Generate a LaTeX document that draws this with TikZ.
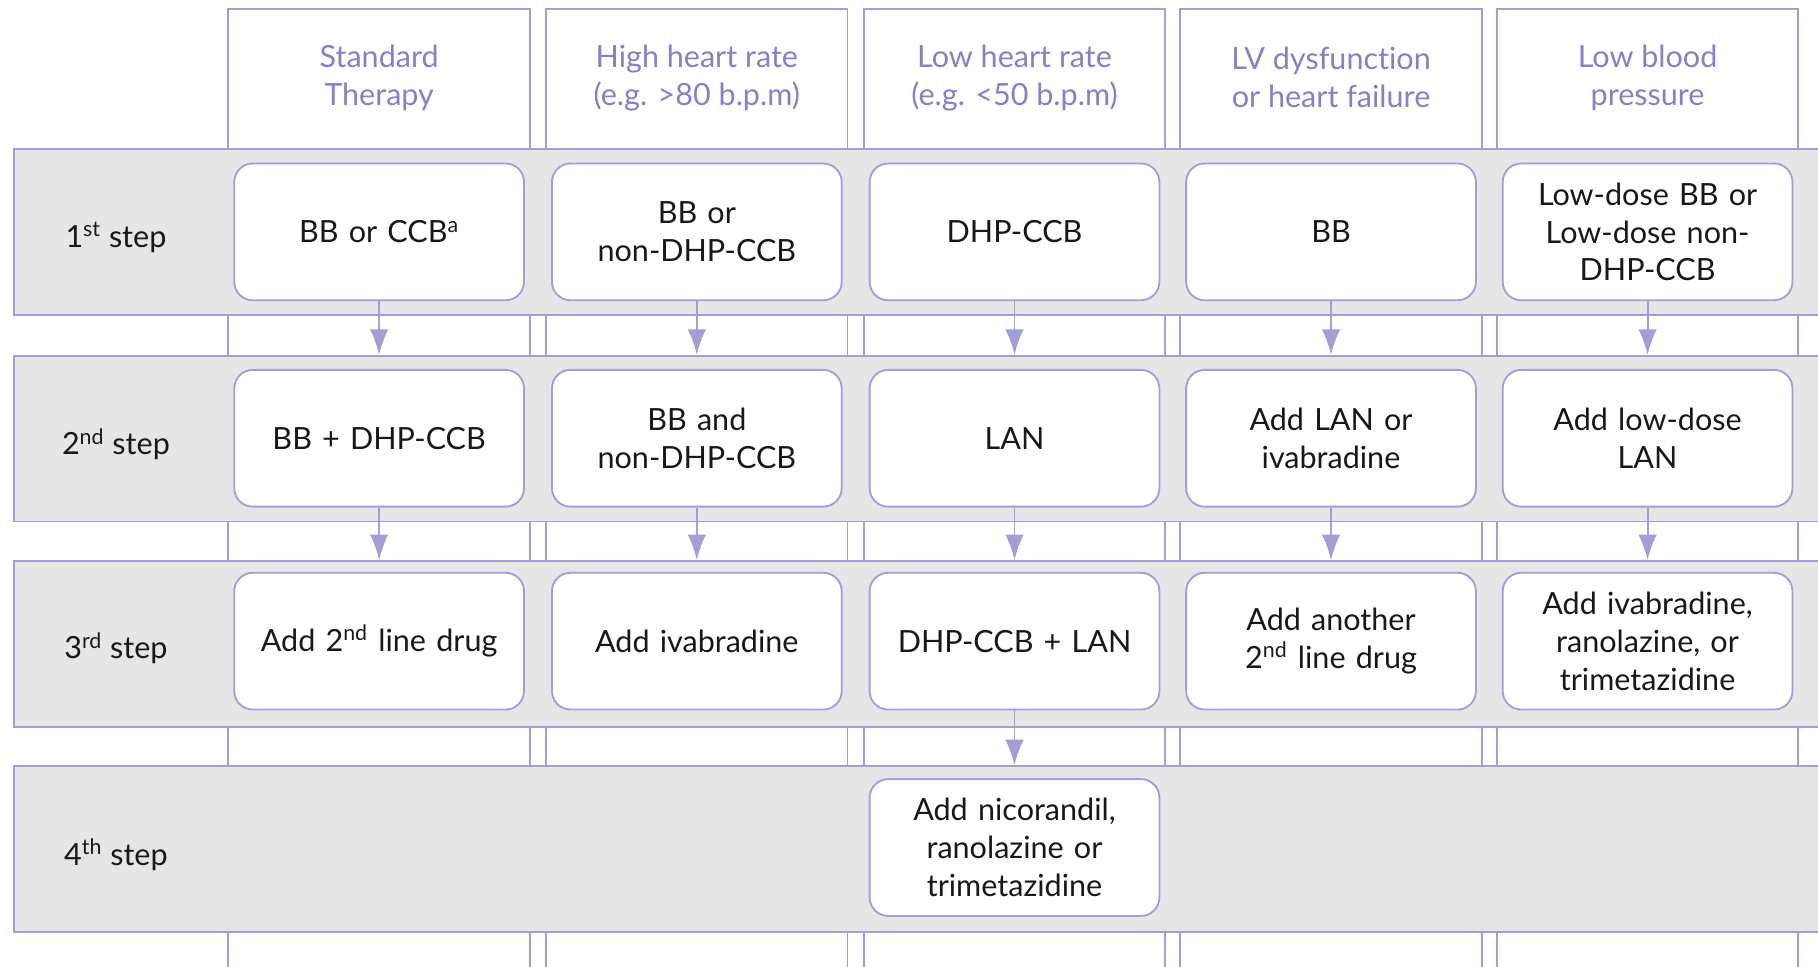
\documentclass[tikz,border=0pt]{standalone}
\usepackage{fontspec}
\setmainfont{Lato}[Ligatures=NoCommon]
\usetikzlibrary{arrows.meta,positioning}
\definecolor{cline}{HTML}{A29ED6}
\definecolor{chead}{HTML}{8581C6}
\definecolor{cband}{HTML}{E6E6E6}
\definecolor{ctext}{HTML}{1A1718}

\begin{document}
\begin{tikzpicture}[
    x=0.02cm, y=0.02cm,
    col/.style={draw=cline, line width=0.9pt, fill=white},
    band/.style={draw=cline, line width=0.9pt, fill=cband, rectangle, anchor=north west,
        inner sep=0pt, minimum width=31.8cm, minimum height=2.86cm},
    drug/.style={draw=cline, line width=0.9pt, fill=white, rounded corners=0.32cm,
        minimum width=5cm, minimum height=2.36cm, text width=4.7cm, align=center,
        font=\fontsize{15}{18.6}\selectfont, text=ctext},
    head/.style={align=center, font=\fontsize{15}{18.6}\selectfont, text=chead},
    lbl/.style={font=\fontsize{15}{18.6}\selectfont, text=ctext},
    flow/.style={draw=cline, line width=0.9pt, -{Latex[length=4.4mm,width=3.2mm]}},
]
\useasboundingbox (0,0) rectangle (1568,-834);
\clip (0,0) rectangle (1568,-834);

% --- columns (header boxes running down the whole table) ---
\foreach \x in {197,471,745,1018,1291} {
    \draw[col] (\x,-8) rectangle (\x+260,-850);
}

% --- step bands ---
\node[band] (b1) at (11,-128) {};
\node[band] (b2) at (11,-306) {};
\node[band] (b3) at (11,-483) {};
\node[band] (b4) at (11,-660) {};

% --- column headers ---
\node[head] (h1) at (327,-67) {Standard\\Therapy};
\node[head] (h2) at (601,-67) {High heart rate\\(e.g. >80 b.p.m)};
\node[head] (h3) at (875,-67) {Low heart rate\\(e.g. <50 b.p.m)};
\node[head] (h4) at (1148,-67) {LV dysfunction\\or heart failure};
\node[head] (h5) at (1421,-67) {Low blood\\pressure};

% --- step labels ---
\node[lbl] (l1) at (100,-205) {1\textsuperscript{st} step};
\node[lbl] (l2) at (100,-383) {2\textsuperscript{nd} step};
\node[lbl] (l3) at (100,-559) {3\textsuperscript{rd} step};
\node[lbl] (l4) at (100,-737) {4\textsuperscript{th} step};

% 1st step
\node[drug] (s1c1) at (327,-200) {BB or CCB\textsuperscript{a}};
\node[drug] (s1c2) at (601,-200) {BB or\\non-DHP-CCB};
\node[drug] (s1c3) at (875,-200) {DHP-CCB};
\node[drug] (s1c4) at (1148,-200) {BB};
\node[drug] (s1c5) at (1421,-200) {Low-dose BB or\\Low-dose non-\\DHP-CCB};

% 2nd step
\node[drug] (s2c1) at (327,-378) {BB + DHP-CCB};
\node[drug] (s2c2) at (601,-378) {BB and\\non-DHP-CCB};
\node[drug] (s2c3) at (875,-378) {LAN};
\node[drug] (s2c4) at (1148,-378) {Add LAN or\\ivabradine};
\node[drug] (s2c5) at (1421,-378) {Add low-dose\\LAN};

% 3rd step
\node[drug] (s3c1) at (327,-553) {Add 2\textsuperscript{nd} line drug};
\node[drug] (s3c2) at (601,-553) {Add ivabradine};
\node[drug] (s3c3) at (875,-553) {DHP-CCB + LAN};
\node[drug] (s3c4) at (1148,-553) {Add another\\2\textsuperscript{nd} line drug};
\node[drug] (s3c5) at (1421,-553) {Add ivabradine,\\ranolazine, or\\trimetazidine};

% 4th step
\node[drug] (s4c3) at (875,-731) {Add nicorandil,\\ranolazine or\\trimetazidine};

% --- arrows down to the next band ---
\foreach \c in {1,...,5} {
    \draw[flow] (s1c\c.south) -- (s1c\c.south |- b2.north);
    \draw[flow] (s2c\c.south) -- (s2c\c.south |- b3.north);
}
\draw[flow] (s3c3.south) -- (s3c3.south |- b4.north);

\end{tikzpicture}
\end{document}
